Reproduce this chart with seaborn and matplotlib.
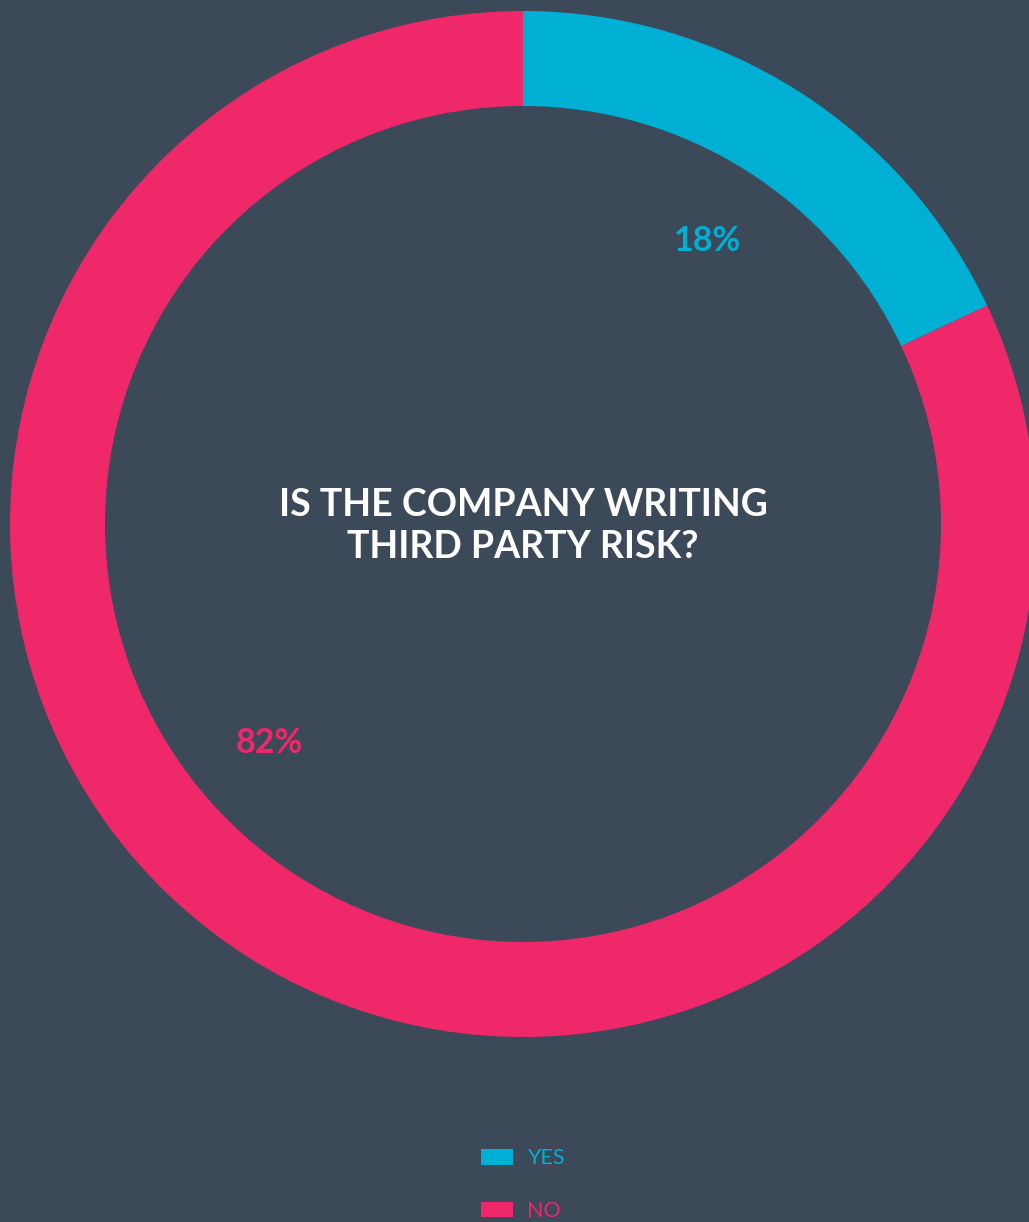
import matplotlib
matplotlib.use("Agg")
import matplotlib.pyplot as plt
import seaborn as sns

# Survey answers
categories = ["YES", "NO"]
shares = [18, 82]
pct_labels = ["18%", "82%"]
question = "IS THE COMPANY WRITING\nTHIRD PARTY RISK?"

bg = "#3c4959"
palette = sns.color_palette(["#00b0d4", "#ef286a"])

sns.set_theme(style="white")
plt.rcParams["font.family"] = ["Lato", "DejaVu Sans"]

W, H = 1029, 1222
fig = plt.figure(figsize=(W / 100, H / 100), dpi=100, facecolor=bg)
ax = fig.add_axes([0, 0, 1, 1])
ax.set_facecolor(bg)

cx, cy, r_out, ring = 523, 524, 513, 95
wedges, _ = ax.pie(
    shares,
    colors=palette,
    startangle=90,
    counterclock=False,
    radius=r_out,
    center=(cx, -cy),
    wedgeprops=dict(width=ring, linewidth=0),
)
ax.set_xlim(0, W)
ax.set_ylim(-H, 0)
ax.set_aspect("equal")
ax.axis("off")

# Value labels inside the ring
label_pos = [(707, 241), (269, 743)]
for (x, y), txt, col in zip(label_pos, pct_labels, palette):
    ax.text(x, -y, txt, color=col, fontsize=24.5, fontweight="bold",
            ha="center", va="center")

# Question in the centre
ax.text(cx, -526, question, color="white", fontsize=27, fontweight="bold",
        ha="center", va="center", linespacing=1.3)

leg = ax.legend(
    wedges, categories,
    loc="upper left", bbox_to_anchor=(462 / W, 1 - 1129 / H),
    frameon=False, fontsize=15.5,
    handlelength=1.45, handleheight=0.72, handletextpad=0.65,
    labelspacing=1.52,
)
for t, col in zip(leg.get_texts(), palette):
    t.set_color(col)

fig.savefig("out.png", dpi=100, facecolor=bg)
